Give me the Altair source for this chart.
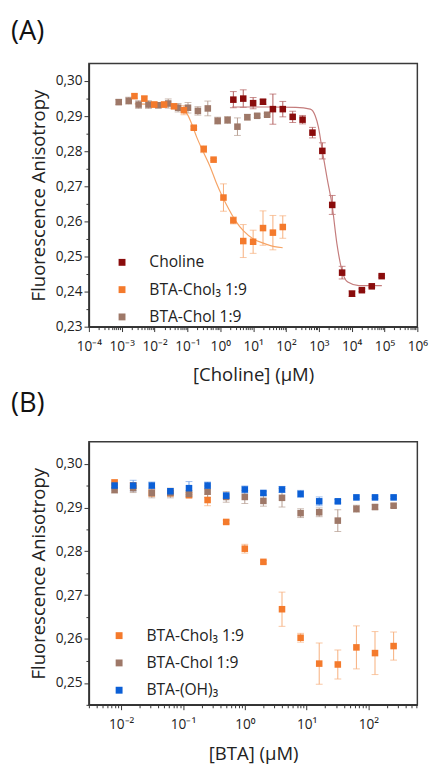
import altair as alt
import pandas as pd

FONT = "Open Sans"

# ---------------- Panel (A): x = [Choline] (µM) ----------------
choline_conc = [2.5, 5, 10, 20, 40, 80, 160, 320, 640, 1280, 2560, 5120, 10240, 20480, 40960, 81920]
choline_fa = [0.2947, 0.2950, 0.2937, 0.2941, 0.2920, 0.2920, 0.2898, 0.2890,
              0.2853, 0.2801, 0.2647, 0.2454, 0.2394, 0.2404, 0.2415, 0.2444]
choline_err = [0.0023, 0.0025, 0.0016, 0.0007, 0.0043, 0.0022, 0.0016, 0.0012,
               0.0015, 0.0023, 0.0027, 0.0018, 0.0008, 0.0004, 0.0003, 0.0003]

chol3_conc_a = [0.00244, 0.00488, 0.00977, 0.0195, 0.0391, 0.0781, 0.156, 0.3125,
                0.625, 1.25, 2.5, 5, 10, 20, 40, 80]
chol_conc_a = [0.00081, 0.00163, 0.00326, 0.0065, 0.013, 0.026, 0.052, 0.104,
               0.208, 0.417, 0.833, 1.67, 3.33, 6.67, 13.3, 26.7]

# shared series values (same measurements in both panels)
chol3_fa = [0.2957, 0.2950, 0.2933, 0.2933, 0.2928, 0.2917, 0.2867, 0.2806,
            0.2776, 0.2668, 0.2603, 0.2544, 0.2542, 0.2581, 0.2568, 0.2584]
chol3_err = [0.0006, 0.0007, 0.0008, 0.0008, 0.0006, 0.0013, 0.0004, 0.0010,
             0.0003, 0.0039, 0.0010, 0.0047, 0.0033, 0.0049, 0.0049, 0.0032]
chol_fa = [0.2940, 0.2944, 0.2933, 0.2933, 0.2931, 0.2936, 0.2924, 0.2924,
           0.2915, 0.2922, 0.2887, 0.2889, 0.2870, 0.2897, 0.2901, 0.2904]
chol_err = [0.0007, 0.0010, 0.0011, 0.0011, 0.0007, 0.0013, 0.0012, 0.0015,
            0.0012, 0.0021, 0.0010, 0.0010, 0.0025, 0.0008, 0.0005, 0.0004]

# fitted curves
choline_fit_conc = [2.3, 31.6, 200, 550, 776, 973, 1280, 1800, 2530, 3560, 5010, 7590, 16600, 83000]
choline_fit_fa = [0.2926, 0.2926, 0.2925, 0.2920, 0.2901, 0.2869, 0.2801, 0.2721,
                  0.2647, 0.2536, 0.2462, 0.2427, 0.2417, 0.2417]
chol3_fit_conc = [0.0025, 0.01, 0.0316, 0.063, 0.1, 0.126, 0.19, 0.30, 0.48, 0.75,
                  1.17, 1.86, 2.95, 5.1, 10.2, 20.4, 44.7, 79.4]
chol3_fit_fa = [0.2935, 0.2934, 0.2930, 0.2922, 0.2905, 0.2885, 0.2841, 0.2799, 0.2758,
                0.2711, 0.2670, 0.2633, 0.2601, 0.2573, 0.2550, 0.2538, 0.2528, 0.2525]

# ---------------- Panel (B): x = [BTA] (µM) ----------------
bta_conc = [0.0078125, 0.015625, 0.03125, 0.0625, 0.125, 0.25, 0.5, 1, 2, 4, 8, 16, 32, 64, 128, 256]
oh_fa = [0.2950, 0.2950, 0.2950, 0.2937, 0.2944, 0.2950, 0.2927, 0.2941,
         0.2933, 0.2941, 0.2931, 0.2914, 0.2914, 0.2923, 0.2923, 0.2923]
oh_err = [0.0010, 0.0012, 0.0008, 0.0006, 0.0015, 0.0008, 0.0006, 0.0008,
          0.0004, 0.0007, 0.0008, 0.0010, 0.0004, 0.0003, 0.0003, 0.0003]

S_CHOLINE = "Choline"
S_CHOL3 = "BTA-Chol₃ 1:9"
S_CHOL = "BTA-Chol 1:9"
S_OH = "BTA-(OH)₃"

COLOR = {S_CHOLINE: "#8A0C0C", S_CHOL3: "#F47A2C", S_CHOL: "#9E7868", S_OH: "#0B5FD6"}
ERR_COLOR = {S_CHOLINE: "#B05A5A", S_CHOL3: "#F7AE7A", S_CHOL: "#B59C90", S_OH: "#6FA0E8"}
FIT_COLOR = {S_CHOLINE: "#C47C7C", S_CHOL3: "#F6A466"}

# axis tick positions
a_x_ticks = [float(f"{k}e{e}") for e in range(-4, 6) for k in range(1, 10)] + [1e6]
b_x_ticks = [v for v in (float(f"{k}e{e}") for e in range(-3, 3) for k in range(1, 10)) if 0.003 <= v <= 620]
a_y_ticks = [round(0.23 + 0.005 * i, 3) for i in range(15)]
b_y_ticks = [round(0.245 + 0.005 * i, 3) for i in range(12)]

DEC = "abs(log(datum.value)/LN10 - round(log(datum.value)/LN10)) < 0.001"
SUP = "'⁰¹²³⁴⁵⁶⁷⁸⁹'"
E = "round(log(datum.value)/LN10)"
X_LABEL = (f"{DEC} ? '10' + ({E} < 0 ? '⁻' : '') + substring({SUP}, abs({E}), abs({E}) + 1) : ''")
MAJ_Y = "abs(datum.value*100 - round(datum.value*100)) < 0.01"
Y_LABEL = f"{MAJ_Y} ? replace(format(datum.value, '.2f'), '.', ',') : ''"


def pts_df(series, conc, fa, err):
    return pd.DataFrame({
        "conc": conc, "fa": fa,
        "lo": [f - e for f, e in zip(fa, err)],
        "hi": [f + e for f, e in zip(fa, err)],
        "series": series,
    })


def panel(title, point_sets, fit_sets, xdom, ydom, xticks, yticks, xtitle, order,
          lx, ly, rowpad, title_offset, xtitle_pad):
    xs = alt.Scale(type="log", domain=xdom, nice=False)
    ys = alt.Scale(domain=ydom, nice=False, zero=False)
    xa = alt.Axis(values=xticks, title=xtitle, labelExpr=X_LABEL, labelFlush=False,
                  labelOverlap=False, labelPadding=8, titlePadding=xtitle_pad, grid=False,
                  tickSize={"condition": {"test": DEC, "value": 5}, "value": 3})
    ya = alt.Axis(values=yticks, title="Fluorescence Anisotropy", labelExpr=Y_LABEL,
                  labelFlush=False, labelOverlap=False, labelPadding=2, titlePadding=7, grid=False,
                  tickSize={"condition": {"test": MAJ_Y, "value": 5}, "value": 3})
    X = alt.X("conc:Q", scale=xs, axis=xa)
    layers = []
    for s, conc, fa, err in point_sets:
        df = pts_df(s, conc, fa, err)
        base = alt.Chart(df)
        layers.append(base.mark_rule(color=ERR_COLOR[s], strokeWidth=1).encode(
            x=X, y=alt.Y("lo:Q", scale=ys, axis=ya), y2="hi:Q"))
        layers.append(base.mark_tick(color=ERR_COLOR[s], orient="horizontal", size=7, thickness=1).encode(
            x=X, y=alt.Y("lo:Q", scale=ys, axis=ya)))
        layers.append(base.mark_tick(color=ERR_COLOR[s], orient="horizontal", size=7, thickness=1).encode(
            x=X, y=alt.Y("hi:Q", scale=ys, axis=ya)))
    for s, conc, fa in fit_sets:
        df = pd.DataFrame({"conc": conc, "fa": fa})
        layers.append(alt.Chart(df).mark_line(color=FIT_COLOR[s], strokeWidth=1.2, interpolate="monotone").encode(
            x=X, y=alt.Y("fa:Q", scale=ys, axis=ya)))
    all_pts = pd.concat([pts_df(*p) for p in point_sets], ignore_index=True)
    legend = alt.Legend(orient="none", legendX=lx, legendY=ly, title=None, symbolType="square",
                        symbolSize=50, labelFontSize=16, labelFont=FONT, labelColor="#222",
                        rowPadding=rowpad, labelOffset=20, symbolStrokeWidth=0)
    layers.append(alt.Chart(all_pts).mark_square(size=45, opacity=1).encode(
        x=X, y=alt.Y("fa:Q", scale=ys, axis=ya),
        color=alt.Color("series:N", scale=alt.Scale(domain=order, range=[COLOR[o] for o in order]),
                        legend=legend, sort=order)))
    return alt.layer(*layers).properties(
        width=337, height=270,
        title=alt.TitleParams(text=title, anchor="start", frame="group", dx=-80, fontSize=28,
                              font=FONT, fontWeight="normal", color="#111", offset=title_offset))


chart_a = panel(
    "(A)",
    [(S_CHOL, chol_conc_a, chol_fa, chol_err),
     (S_CHOL3, chol3_conc_a, chol3_fa, chol3_err),
     (S_CHOLINE, choline_conc, choline_fa, choline_err)],
    [(S_CHOL3, chol3_fit_conc, chol3_fit_fa), (S_CHOLINE, choline_fit_conc, choline_fit_fa)],
    [1e-4, 1e6], [0.23, 0.305], a_x_ticks, a_y_ticks, "[Choline] (µM)",
    [S_CHOLINE, S_CHOL3, S_CHOL], 26, 196, 12, 18, 13)

chart_b = panel(
    "(B)",
    [(S_CHOL3, bta_conc, chol3_fa, chol3_err),
     (S_CHOL, bta_conc, chol_fa, chol_err),
     (S_OH, bta_conc, oh_fa, oh_err)],
    [],
    [0.003, 620], [0.245, 0.305], b_x_ticks, b_y_ticks, "[BTA] (µM)",
    [S_CHOL3, S_CHOL, S_OH], 23, 191, 12, 24, 14)

chart = alt.vconcat(chart_a, chart_b, spacing=5).resolve_scale(
    color="independent", x="independent", y="independent"
).properties(
    padding={"left": 2, "top": 0, "right": 2, "bottom": 0},
    background="white",
).configure_axis(
    labelFont=FONT, labelFontSize=14, labelColor="#222",
    titleFont=FONT, titleFontSize=19, titleFontWeight="normal", titleColor="#222",
    domainColor="#333", domainWidth=1.5, tickColor="#333", tickWidth=1, grid=False,
).configure_view(stroke="#3a3a3a", strokeWidth=1.5)

chart.save("out.html", embed_options={"renderer": "svg", "actions": False})
